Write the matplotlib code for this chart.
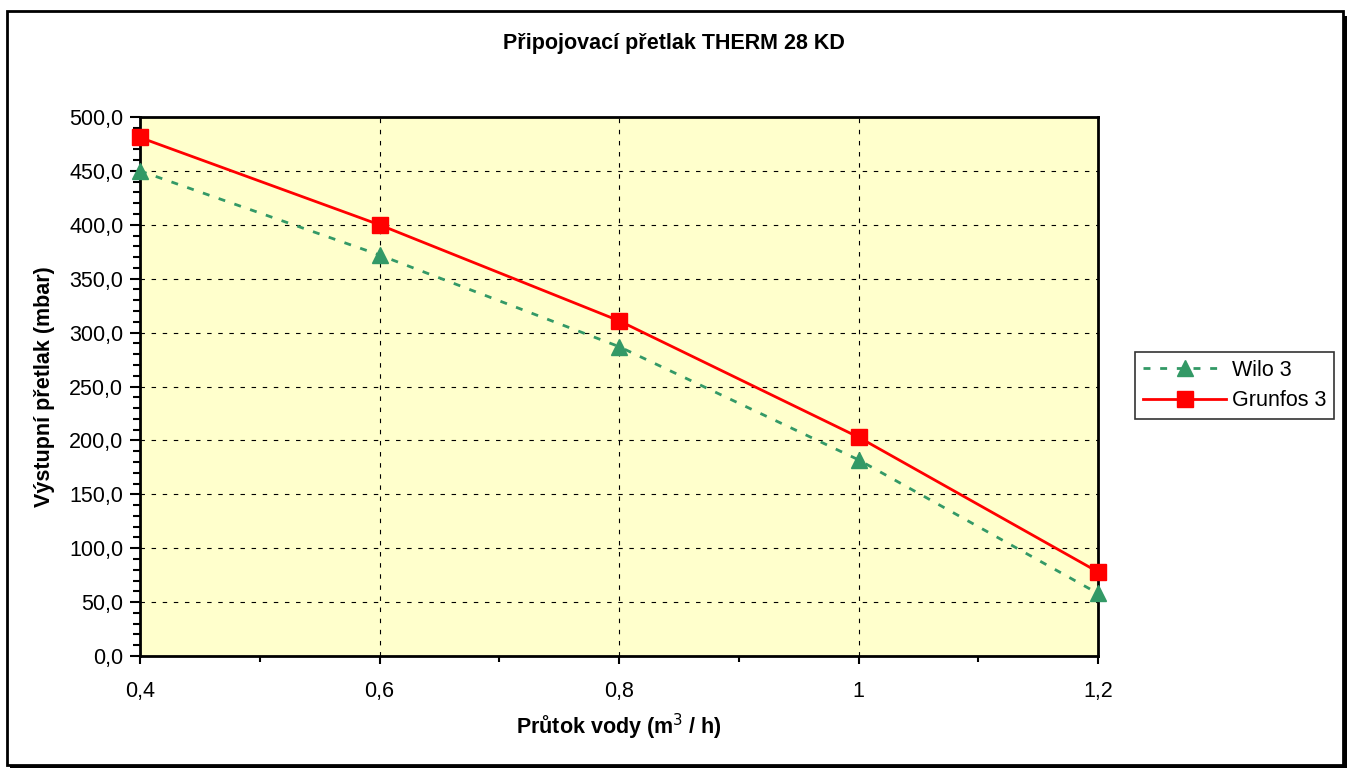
import matplotlib
matplotlib.use("Agg")
import matplotlib.pyplot as plt
from matplotlib.ticker import MultipleLocator, FuncFormatter
from matplotlib.patches import Rectangle

plt.rcParams['font.family'] = ['Liberation Sans', 'DejaVu Sans']

flow = [0.4, 0.6, 0.8, 1.0, 1.2]
wilo = [450, 372, 287, 182, 58]
grunfos = [481, 400, 311, 203, 78]

W, H = 1349, 769
fig = plt.figure(figsize=(W/100, H/100), dpi=100)
fig.patch.set_facecolor('white')

# outer frame with shadow
fig.add_artist(Rectangle((10/W, 1/H), 1337/W, 752/H, transform=fig.transFigure,
                         facecolor='black', edgecolor='none', zorder=0))
fig.add_artist(Rectangle((7/W, 4/H), 1336/W, 754/H, transform=fig.transFigure,
                         facecolor='white', edgecolor='black', linewidth=2, zorder=0.5))

ax = fig.add_axes([140/W, 1-656/H, (1098-140)/W, (656-117)/H])
ax.set_facecolor('#FFFFCC')
ax.set_zorder(2)

ax.plot(flow, wilo, color='#339966', linestyle=(0, (2.5, 3.5)), linewidth=2,
        marker='^', markersize=12, markerfacecolor='#339966', markeredgecolor='#339966',
        label='Wilo 3', clip_on=False, zorder=4)
ax.plot(flow, grunfos, color='#FF0000', linestyle='-', linewidth=2,
        marker='s', markersize=11.5, markerfacecolor='#FF0000', markeredgecolor='#FF0000',
        label='Grunfos 3', clip_on=False, zorder=5)

ax.set_xlim(0.4, 1.2)
ax.set_ylim(0, 500)
ax.xaxis.set_major_locator(MultipleLocator(0.2))
ax.xaxis.set_minor_locator(MultipleLocator(0.1))
ax.yaxis.set_major_locator(MultipleLocator(50))
ax.yaxis.set_minor_locator(MultipleLocator(10))

def xfmt(v, p):
    s = f"{v:.1f}".replace('.', ',')
    if s.endswith(',0'):
        s = s[:-2]
    return s
ax.xaxis.set_major_formatter(FuncFormatter(xfmt))
ax.yaxis.set_major_formatter(FuncFormatter(lambda v, p: f"{v:.1f}".replace('.', ',')))

ax.grid(True, which='major', color='black', linestyle=(0, (4, 6)), linewidth=0.8)
ax.tick_params(axis='both', which='major', direction='out', length=6, width=1.5,
               labelsize=15.5, colors='black')
ax.tick_params(axis='both', which='minor', direction='out', length=4, width=1.5)
ax.tick_params(axis='y', which='major', direction='out', length=7, pad=5)
ax.tick_params(axis='y', which='minor', direction='out', length=5)
ax.tick_params(axis='x', which='major', pad=12)
for s in ax.spines.values():
    s.set_linewidth(2)
    s.set_color('black')

ax.set_xlabel('Průtok vody (m$^3$ / h)', fontsize=15.5, fontweight='bold', labelpad=7)
ax.set_ylabel('Výstupní přetlak (mbar)', fontsize=15.5, fontweight='bold', labelpad=10)
fig.text(674/W, 1-44/H, 'Připojovací přetlak THERM 28 KD', ha='center', va='center',
         fontsize=15.5, fontweight='bold')

leg = fig.legend(loc='upper left', bbox_to_anchor=(1135/W, 1-352/H), fontsize=15.5,
                 frameon=True, fancybox=False, edgecolor='black', handlelength=3.9,
                 borderpad=0.35, labelspacing=0.45, handletextpad=0.25, borderaxespad=0)
leg.get_frame().set_linewidth(1.2)

fig.savefig('out.png', dpi=100)
